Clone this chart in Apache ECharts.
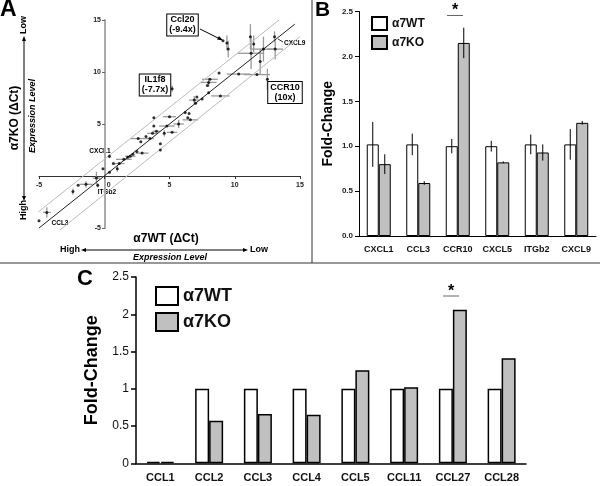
<!DOCTYPE html>
<html><head><meta charset="utf-8">
<script src="https://cdn.jsdelivr.net/npm/echarts@6/dist/echarts.min.js"></script>
<style>html,body{margin:0;padding:0;background:#fff}#c{width:600px;height:486px}</style>
</head><body><div id="c"></div>
<script>
// ---------- Panel A : ΔCt scatter ----------
const wtCt  = [-5.0,-4.4,-2.4,-2.0,-1.4,-0.6,-0.5,-0.1,0.4,0.4,0.7,1.0,1.15,1.5,1.8,2.0,2.2,2.5,2.9,2.6,2.8,3.2,3.5,3.7,3.8,3.8,4.0,4.3,4.3,4.6,4.8,5.0,5.2,5.7,6.2,6.4,6.6,6.5,6.9,7.0,7.1,7.5,7.9,8.0,8.1,8.0,8.8,8.9,9.1,9.4,9.5,10.3,11.2,11.25,11.45,11.7,11.95,12.2,12.5,13.05,13.1,5.2];
const koCt  = [-4.3,-3.5,-1.5,-0.9,-0.8,-0.2,-0.9,0.7,0.35,1.9,1.2,0.7,1.2,1.6,1.8,1.9,2.1,2.35,2.2,3.6,3.3,3.8,3.6,4.1,4.8,5.6,4.3,3.1,2.5,4.1,4.8,5.7,4.2,5.0,6.1,5.6,5.4,6.0,7.3,7.0,7.6,7.4,8.7,9.0,9.3,8.0,9.9,7.7,13.0,12.8,12.2,9.8,13.4,11.8,12.7,9.75,11.0,12.2,9.3,13.4,12.2,8.4];
const wtErr = [0,0.3,0,0,0.5,0.3,0,0,0,0,0,0,0.4,0.6,0,0.4,0,0,0.5,0.6,0,0,0.3,0.4,0,0,0.3,0,0,0,0.6,0.5,0.4,0.4,0,0,0.6,0,0.4,0,0,0,0,0.6,0.6,0,0,0.7,0,0,0,0.9,0,1.0,0,1.0,0,1.0,0,0,0.6,0];
const koErr = [0,0.5,0.3,0,0.3,0.6,0.2,0,0,0.2,0,0.3,0,0,0,0,0,0,0,0,0,0,0,0,0,0,0,0,0,0.3,0,0,0,0.4,0,0,0,0,0.4,0,0,0,0,0.4,0,0,0,0,0,0.7,0.8,0,1.2,1.5,0.8,0,1.2,1.2,1.0,0.5,1.0,0.3];
const fitLine   = [[-5,-5],[14.6,14.6]];
const upperBand = [[-5.4,-3.8],[13.4,15]];
const lowerBand = [[-3.4,-5.2],[15,13.4]];

// ---------- Panel B ----------
const catsB  = ['CXCL1','CCL3','CCR10','CXCL5','ITGb2','CXCL9'];
const wtB    = [1.02,1.02,1.0,1.0,1.02,1.02];
const koB    = [0.80,0.59,2.15,0.82,0.93,1.26];
const wtBErr = [0.25,0.12,0.08,0.06,0.11,0.17];
const koBErr = [0.11,0.02,0.17,0.01,0.09,0.02];

// ---------- Panel C ----------
const catsC = ['CCL1','CCL2','CCL3','CCL4','CCL5','CCL11','CCL27','CCL28'];
const wtC   = [0.02,1,1,1,1,1,1,1];
const koC   = [0.02,0.57,0.66,0.65,1.25,1.02,2.06,1.41];

const FONT = 'Liberation Sans, Arial, sans-serif';
const GRAY = '#c0c0c0';

const scatterData = wtCt.map((x,i)=>[x, koCt[i], wtErr[i], koErr[i]]);

function errBarRenderer(offset){
  return function(params, api){
    const c = api.value(0), v = api.value(1), e = api.value(2);
    if(!e) return null;
    const p1 = api.coord([c, v+e]), p2 = api.coord([c, v-e]);
    return {type:'line', shape:{x1:p1[0]+offset,y1:p1[1],x2:p2[0]+offset,y2:p2[1]},
      style:{stroke:'#000',lineWidth:1}};
  };
}

const chart = echarts.init(document.getElementById('c'));

const option = {
  animation:false,
  backgroundColor:'#fff',
  textStyle:{fontFamily:FONT},
  grid:[
    {left:39, top:20, width:261, height:208},
    {left:359, top:11.5, width:237, height:224.5},
    {left:136, top:277, width:390, height:186.3}
  ],
  xAxis:[
    {gridIndex:0, type:'value', min:-5, max:15, interval:5, position:'bottom', offset:-52,
     axisLine:{onZero:false, lineStyle:{color:'#333', width:1}},
     axisTick:{length:3, lineStyle:{color:'#333'}},
     axisLabel:{fontSize:7, fontWeight:'bold', color:'#222', margin:6,
       formatter:v=> v===0 ? '{z|0}' : String(v),
       rich:{z:{fontSize:7, fontWeight:'bold', color:'#222', padding:[0,0,0,9]}}},
     splitLine:{show:false}},
    {gridIndex:1, type:'category', data:catsB,
     axisLine:{lineStyle:{color:'#000', width:1}},
     axisTick:{length:4, lineStyle:{color:'#000'}},
     axisLabel:{fontSize:9, fontWeight:'bold', color:'#111', margin:9, interval:0}},
    {gridIndex:2, type:'category', data:catsC,
     axisLine:{lineStyle:{color:'#000', width:1.5}},
     axisTick:{length:5, lineStyle:{color:'#000', width:1.5}},
     axisLabel:{fontSize:11, fontWeight:'bold', color:'#111', margin:9, interval:0}}
  ],
  yAxis:[
    {gridIndex:0, type:'value', min:-5, max:15, interval:5, position:'left', offset:-66,
     axisLine:{onZero:false, lineStyle:{color:'#aaa', width:2}},
     axisTick:{length:3, lineStyle:{color:'#666'}},
     axisLabel:{fontSize:7, fontWeight:'bold', color:'#222', margin:4,
       formatter:v=> v===0 ? '' : String(v)},
     splitLine:{show:false}},
    {gridIndex:1, type:'value', min:0, max:2.5, interval:0.5,
     axisLine:{show:true, lineStyle:{color:'#000'}},
     axisTick:{show:true, length:4, lineStyle:{color:'#000'}},
     axisLabel:{fontSize:8, fontWeight:'bold', color:'#222', margin:6, formatter:v=>v.toFixed(1)},
     splitLine:{show:false},
     name:'Fold-Change', nameLocation:'middle', nameGap:24, nameRotate:90,
     nameTextStyle:{fontSize:14, fontWeight:'bold', color:'#000'}},
    {gridIndex:2, type:'value', min:0, max:2.5, interval:0.5,
     axisLine:{show:true, lineStyle:{color:'#000', width:1.5}},
     axisTick:{show:true, length:5, lineStyle:{color:'#000', width:1.5}},
     axisLabel:{fontSize:12, color:'#111', margin:7},
     splitLine:{show:false},
     name:'Fold-Change', nameLocation:'middle', nameGap:25, nameRotate:90,
     nameTextStyle:{fontSize:18, fontWeight:'bold', color:'#000'}}
  ],
  legend:[
    {data:['α7WT','α7KO'], orient:'vertical', left:366, top:11, itemWidth:15, itemHeight:13,
     itemGap:4, icon:'rect', textStyle:{fontSize:12, fontWeight:'bold', color:'#111'}, selectedMode:false},
    {data:['α7WT ','α7KO '], orient:'vertical', left:150, top:281, itemWidth:22, itemHeight:18,
     itemGap:6, icon:'rect', textStyle:{fontSize:18, fontWeight:'bold', color:'#111'}, selectedMode:false}
  ],
  series:[
    // Panel A
    {type:'line', xAxisIndex:0, yAxisIndex:0, data:upperBand, symbol:'none', clip:false,
     lineStyle:{color:'#bbb', width:1}, silent:true},
    {type:'line', xAxisIndex:0, yAxisIndex:0, data:lowerBand, symbol:'none', clip:false,
     lineStyle:{color:'#bbb', width:1}, silent:true},
    {type:'line', xAxisIndex:0, yAxisIndex:0, data:fitLine, symbol:'none', clip:false,
     lineStyle:{color:'#222', width:1}, silent:true},
    {type:'custom', xAxisIndex:0, yAxisIndex:0, data:scatterData, encode:{x:0,y:1},
     renderItem:function(params, api){
       const x=api.value(0), y=api.value(1), xe=api.value(2), ye=api.value(3);
       const ch=[];
       if(xe){const a=api.coord([x-xe,y]), b=api.coord([x+xe,y]);
         ch.push({type:'line',shape:{x1:a[0],y1:a[1],x2:b[0],y2:b[1]},style:{stroke:'#999',lineWidth:1.3}});}
       if(ye){const a=api.coord([x,y-ye]), b=api.coord([x,y+ye]);
         ch.push({type:'line',shape:{x1:a[0],y1:a[1],x2:b[0],y2:b[1]},style:{stroke:'#999',lineWidth:1.3}});}
       return {type:'group', children:ch};
     }, z:3},
    {type:'scatter', xAxisIndex:0, yAxisIndex:0, data:scatterData.map(d=>[d[0],d[1]]),
     symbolSize:3, itemStyle:{color:'#000'}, z:4},
    // Panel B
    {name:'α7WT', type:'bar', xAxisIndex:1, yAxisIndex:1, data:wtB, barWidth:12, barGap:'0%',
     itemStyle:{color:'#fff', borderColor:'#000', borderWidth:1}},
    {name:'α7KO', type:'bar', xAxisIndex:1, yAxisIndex:1, data:koB, barWidth:12, barGap:'0%',
     itemStyle:{color:GRAY, borderColor:'#000', borderWidth:1}},
    {type:'custom', xAxisIndex:1, yAxisIndex:1, data:wtB.map((v,i)=>[i,v,wtBErr[i]]),
     encode:{x:0,y:1}, renderItem:errBarRenderer(-6), z:5},
    {type:'custom', xAxisIndex:1, yAxisIndex:1, data:koB.map((v,i)=>[i,v,koBErr[i]]),
     encode:{x:0,y:1}, renderItem:errBarRenderer(6), z:5},
    // Panel C
    {name:'α7WT ', type:'bar', xAxisIndex:2, yAxisIndex:2, data:wtC, barWidth:14, barGap:'0%',
     itemStyle:{color:'#fff', borderColor:'#000', borderWidth:1.5}},
    {name:'α7KO ', type:'bar', xAxisIndex:2, yAxisIndex:2, data:koC, barWidth:14, barGap:'0%',
     itemStyle:{color:GRAY, borderColor:'#000', borderWidth:1.5}}
  ],
  graphic:[
    // separators
    {type:'line', shape:{x1:312,y1:0,x2:312,y2:263}, style:{stroke:'#333',lineWidth:1}},
    {type:'line', shape:{x1:0,y1:263,x2:600,y2:263}, style:{stroke:'#333',lineWidth:1}},
    // panel letters
    {type:'text', left:0, top:-2, style:{text:'A', font:'900 23px '+FONT, fill:'#000'}},
    {type:'text', left:315, top:0, style:{text:'B', font:'900 21px '+FONT, fill:'#000'}},
    {type:'text', left:77, top:268, style:{text:'C', font:'900 22px '+FONT, fill:'#000'}},
    // Panel A axis titles
    {type:'text', x:15, y:118, rotation:Math.PI/2,
     style:{text:'α7KO (ΔCt)', font:'bold 12px '+FONT, fill:'#000', textAlign:'center', textVerticalAlign:'middle'}},
    {type:'text', x:33, y:116, rotation:Math.PI/2,
     style:{text:'Expression Level', font:'italic bold 9px '+FONT, fill:'#000', textAlign:'center', textVerticalAlign:'middle'}},
    {type:'text', x:24, y:25, rotation:Math.PI/2,
     style:{text:'Low', font:'bold 9px '+FONT, fill:'#000', textAlign:'center', textVerticalAlign:'middle'}},
    {type:'text', x:24, y:210, rotation:Math.PI/2,
     style:{text:'High', font:'bold 9px '+FONT, fill:'#000', textAlign:'center', textVerticalAlign:'middle'}},
    {type:'line', shape:{x1:24,y1:38,x2:24,y2:199}, style:{stroke:'#000',lineWidth:1}},
    {type:'polygon', shape:{points:[[24,36],[22,41],[26,41]]}, style:{fill:'#000'}},
    {type:'polygon', shape:{points:[[24,201],[22,196],[26,196]]}, style:{fill:'#000'}},
    {type:'text', x:166, y:239,
     style:{text:'α7WT (ΔCt)', font:'bold 12px '+FONT, fill:'#000', textAlign:'center', textVerticalAlign:'middle'}},
    {type:'text', x:70, y:250,
     style:{text:'High', font:'bold 9px '+FONT, fill:'#000', textAlign:'center', textVerticalAlign:'middle'}},
    {type:'text', x:259, y:250,
     style:{text:'Low', font:'bold 9px '+FONT, fill:'#000', textAlign:'center', textVerticalAlign:'middle'}},
    {type:'line', shape:{x1:83,y1:250,x2:246,y2:250}, style:{stroke:'#000',lineWidth:1}},
    {type:'polygon', shape:{points:[[81,250],[86,248],[86,252]]}, style:{fill:'#000'}},
    {type:'polygon', shape:{points:[[248,250],[243,248],[243,252]]}, style:{fill:'#000'}},
    {type:'text', x:170, y:258,
     style:{text:'Expression Level', font:'italic bold 9px '+FONT, fill:'#000', textAlign:'center', textVerticalAlign:'middle'}},
    // Panel A annotations
    {type:'text', x:182.5, y:25, z:10,
     style:{text:'Ccl20\n(-9.4x)', font:'bold 9px '+FONT, lineHeight:10, fill:'#000', textAlign:'center', textVerticalAlign:'middle',
       backgroundColor:'#fff', borderColor:'#000', borderWidth:1, padding:[1,2,0,2]}},
    {type:'line', shape:{x1:200,y1:29,x2:220,y2:39}, style:{stroke:'#000',lineWidth:1}},
    {type:'polygon', shape:{points:[[223,40.5],[217,39.5],[219,36]]}, style:{fill:'#000'}},
    {type:'text', x:155, y:85, z:10,
     style:{text:'IL1f8\n(-7.7x)', font:'bold 9px '+FONT, lineHeight:10, fill:'#000', textAlign:'center', textVerticalAlign:'middle',
       backgroundColor:'#fff', borderColor:'#000', borderWidth:1, padding:[1,2,0,2]}},
    {type:'text', x:285, y:92.5, z:10,
     style:{text:'CCR10\n(10x)', font:'bold 9px '+FONT, lineHeight:10, fill:'#000', textAlign:'center', textVerticalAlign:'middle',
       backgroundColor:'#fff', borderColor:'#000', borderWidth:1, padding:[1,2,0,2]}},
    {type:'text', x:284, y:43, style:{text:'CXCL9', font:'bold 6.5px '+FONT, fill:'#000', textVerticalAlign:'middle'}},
    {type:'line', shape:{x1:278,y1:39,x2:283,y2:42}, style:{stroke:'#000',lineWidth:0.8}},
    {type:'text', x:100, y:151, style:{text:'CXCL1', font:'bold 6.5px '+FONT, fill:'#000', textAlign:'center', textVerticalAlign:'middle'}},
    {type:'text', x:107, y:192, style:{text:'ITGb2', font:'bold 6.5px '+FONT, fill:'#000', textAlign:'center', textVerticalAlign:'middle'}},
    {type:'text', x:60, y:223, style:{text:'CCL3', font:'bold 6.5px '+FONT, fill:'#000', textAlign:'center', textVerticalAlign:'middle'}},
    // significance stars
    {type:'text', x:455, y:11, style:{text:'*', font:'bold 16px '+FONT, fill:'#000', textAlign:'center', textVerticalAlign:'middle'}},
    {type:'line', shape:{x1:447,y1:15.5,x2:463,y2:15.5}, style:{stroke:'#666',lineWidth:1}},
    {type:'text', x:451, y:292, style:{text:'*', font:'bold 16px '+FONT, fill:'#000', textAlign:'center', textVerticalAlign:'middle'}},
    {type:'line', shape:{x1:443,y1:296,x2:459,y2:296}, style:{stroke:'#666',lineWidth:1}}
  ]
};
chart.setOption(option);
</script></body></html>
